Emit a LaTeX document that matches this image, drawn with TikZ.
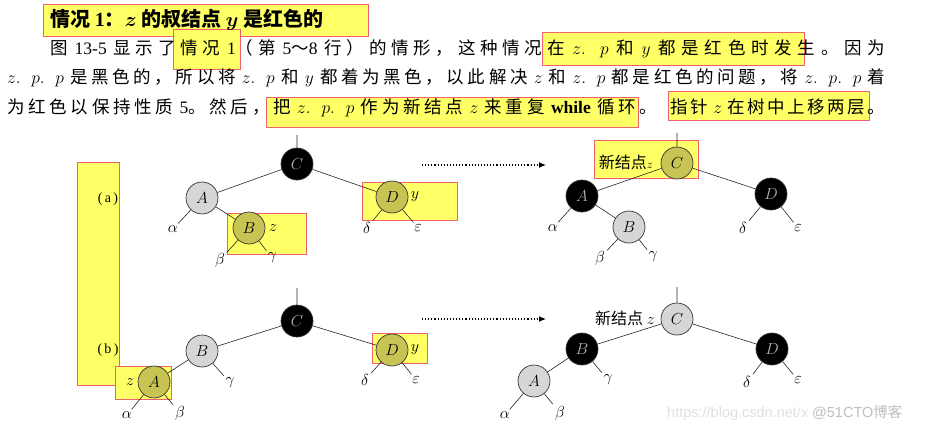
\RequirePackage{fix-cm}
\documentclass[tikz,border=0pt]{standalone}
\usepackage[no-math]{fontspec}
\setmainfont{Noto Sans CJK SC}
\newfontfamily\lat{Liberation Serif}
\newfontfamily\wmfont{Liberation Sans}
\usetikzlibrary{arrows.meta}
% stretchable glue between Chinese characters, so that a line can be justified
\XeTeXinterchartokenstate=1
\newXeTeXintercharclass\cjkcls
\makeatletter
\count@="4E00
\loop \XeTeXcharclass\count@=\cjkcls \advance\count@\@ne \ifnum\count@<"A000 \repeat
\makeatother
\XeTeXcharclass"3001=\cjkcls \XeTeXcharclass"3002=\cjkcls
\XeTeXcharclass"FF0C=\cjkcls \XeTeXcharclass"FF1A=\cjkcls
\XeTeXcharclass"FF08=\cjkcls \XeTeXcharclass"FF09=\cjkcls \XeTeXcharclass"FF5E=\cjkcls
\XeTeXinterchartoks\cjkcls\cjkcls={\hskip0pt plus 3pt\relax}
\definecolor{hlyellow}{RGB}{255,255,102}
\definecolor{hlred}{RGB}{238,98,110}
\definecolor{hlnode}{RGB}{200,196,84}
\definecolor{nodegray}{RGB}{214,214,214}
\newcommand\fullline[2]{\hbox to #1{#2}}
\tikzset{
  hl/.style={fill=hlyellow, draw=hlred, line width=0.9pt},
  rb/.style={circle, draw=black!80, line width=0.7pt, minimum size=32pt, inner sep=0pt, font=\fontsize{16}{16}\selectfont},
  blk/.style={rb, fill=black, text=gray!60},
  gry/.style={rb, fill=nodegray},
  olv/.style={rb, fill=hlnode},
  leaf/.style={inner sep=2pt, font=\fontsize{16}{16}\selectfont},
  edge/.style={line width=0.6pt, black!85},
  txt/.style={anchor=base west, inner sep=0pt, font=\fontsize{17.5}{17.5}\selectfont},
  go/.style={dotted, line width=1.1pt, -{Latex[length=7pt,width=6pt]}},
}
\begin{document}
\begin{tikzpicture}[x=1pt,y=-1pt]
\useasboundingbox (0,0) rectangle (929,431);

% highlights
\fill[white] (0,0) rectangle (929,431);
\draw[hl] (43,4) rectangle (368,36);
\draw[hl] (173,29) rectangle (240,69);
\draw[hl] (542,32) rectangle (804,65);
\draw[hl] (266,97) rectangle (638,127);
\draw[hl] (668,91) rectangle (869,120);
\draw[hl] (77,162) rectangle (119,385);
\draw[hl] (227,213) rectangle (306,254);
\draw[hl] (362,182) rectangle (457,220);
\draw[hl] (594,140) rectangle (698,178);
\draw[hl] (115,366) rectangle (171,399);
\draw[hl] (372,333) rectangle (427,363);

% text
\node[txt, font=\bfseries\fontsize{20}{20}\selectfont] (head) at (50,26)
  {情况 {\lat 1}：{\boldmath$z$} 的叔结点 {\boldmath$y$} 是红色的};
\node[txt] (l1a) at (50,54) {\fullline{492pt}{图 {\lat 13-5} 显示了情况 {\lat 1}（第 {\lat 5}～{\lat 8} 行）的情形，这种情况}};
\node[txt] (l1b) at (547,54) {\fullline{338pt}{在 $z.\;p$ 和 $y$ 都是红色时发生。因为}};
\node[txt] (l2) at (7,83) {\fullline{878pt}{$z.\;p.\;p$ 是黑色的，所以将 $z.\;p$ 和 $y$ 都着为黑色，以此解决 $z$ 和 $z.\;p$ 都是红色的问题，将 $z.\;p.\;p$ 着}};
\node[txt] (l3a) at (7,113) {\fullline{650pt}{为红色以保持性质 {\lat 5}。然后，把 $z.\;p.\;p$ 作为新结点 $z$ 来重复 {\lat\bfseries while} 循环。}};
\node[txt] (l3b) at (670,113) {\fullline{215pt}{指针 $z$ 在树中上移两层。}};

\node[font=\lat\fontsize{14}{14}\selectfont] (la) at (108,199) {(\,a\,)};
\node[font=\lat\fontsize{14}{14}\selectfont] (lb) at (108,350) {(\,b\,)};

% (a) before
\coordinate (alT) at (297,135);
\node[blk] (alC) at (297,164) {$C$};
\node[gry] (alA) at (202,198) {$A$};
\node[olv] (alB) at (249,228) {$B$};
\node[olv] (alD) at (392,197) {$D$};
\node[leaf] (alAl) at (173,229) {$\alpha$};
\node[leaf] (alBe) at (220,260) {$\beta$};
\node[leaf] (alGa) at (272,258) {$\gamma$};
\node[leaf] (alDe) at (367,228) {$\delta$};
\node[leaf] (alEp) at (418,228) {$\varepsilon$};
\node[leaf] (alz) at (273,228) {$z$};
\node[leaf] (aly) at (415,197) {$y$};
\draw[edge] (alT) -- (alC) (alC) -- (alA) (alC) -- (alD) (alA) -- (alB)
  (alA) -- (alAl) (alB) -- (alBe) (alB) -- (alGa) (alD) -- (alDe) (alD) -- (alEp);

% (a) after
\coordinate (arT) at (677,133);
\node[olv] (arC) at (677,163) {$C$};
\node[blk] (arA) at (582,196) {$A$};
\node[gry] (arB) at (629,227) {$B$};
\node[blk] (arD) at (771,194) {$D$};
\node[leaf] (arAl) at (553,228) {$\alpha$};
\node[leaf] (arBe) at (600,258) {$\beta$};
\node[leaf] (arGa) at (653,257) {$\gamma$};
\node[leaf] (arDe) at (743,228) {$\delta$};
\node[leaf] (arEp) at (798,228) {$\varepsilon$};
\node[anchor=east, inner sep=0pt, font=\fontsize{16}{16}\selectfont] (arz) at (653,162) {新结点{\fontsize{12}{12}\selectfont$z$}};
\draw[edge] (arT) -- (arC) (arC) -- (arA) (arC) -- (arD) (arA) -- (arB)
  (arA) -- (arAl) (arB) -- (arBe) (arB) -- (arGa) (arD) -- (arDe) (arD) -- (arEp);

% (b) before
\coordinate (blT) at (297,288);
\node[blk] (blC) at (297,321) {$C$};
\node[gry] (blB) at (202,351) {$B$};
\node[olv] (blA) at (154,382) {$A$};
\node[olv] (blD) at (392,350) {$D$};
\node[leaf] (blGa) at (230,383) {$\gamma$};
\node[leaf] (blAl) at (127,415) {$\alpha$};
\node[leaf] (blBe) at (180,413) {$\beta$};
\node[leaf] (blDe) at (365,380) {$\delta$};
\node[leaf] (blEp) at (416,380) {$\varepsilon$};
\node[leaf] (blz) at (130,382) {$z$};
\node[leaf] (bly) at (415,350) {$y$};
\draw[edge] (blT) -- (blC) (blC) -- (blB) (blC) -- (blD) (blB) -- (blA)
  (blB) -- (blGa) (blA) -- (blAl) (blA) -- (blBe) (blD) -- (blDe) (blD) -- (blEp);

% (b) after
\coordinate (brT) at (677,287);
\node[gry] (brC) at (677,319) {$C$};
\node[blk] (brB) at (582,349) {$B$};
\node[gry] (brA) at (534,381) {$A$};
\node[blk] (brD) at (772,349) {$D$};
\node[leaf] (brGa) at (608,380) {$\gamma$};
\node[leaf] (brAl) at (505,415) {$\alpha$};
\node[leaf] (brBe) at (560,413) {$\beta$};
\node[leaf] (brDe) at (747,382) {$\delta$};
\node[leaf] (brEp) at (798,380) {$\varepsilon$};
\node[anchor=east, inner sep=0pt, font=\fontsize{16}{16}\selectfont] (brz) at (655,318) {新结点 $z$};
\draw[edge] (brT) -- (brC) (brC) -- (brB) (brC) -- (brD) (brB) -- (brA)
  (brB) -- (brGa) (brA) -- (brAl) (brA) -- (brBe) (brD) -- (brDe) (brD) -- (brEp);

% arrows
\coordinate (ga1) at (422,165);
\coordinate (ga2) at (546,165);
\coordinate (gb1) at (422,319);
\coordinate (gb2) at (546,319);
\draw[go] (ga1) -- (ga2);
\draw[go] (gb1) -- (gb2);

\node[anchor=base west, inner sep=0pt, font=\wmfont\fontsize{14.5}{14.5}\selectfont, text=black!12] (wm1) at (667,417) {https://blog.csdn.net/x};
\node[anchor=base west, inner sep=0pt, font=\wmfont\fontsize{14.5}{14.5}\selectfont, text=black!25] (wm2) at (812,417) {@51CTO{\rmfamily 博客}};
\end{tikzpicture}
\end{document}
